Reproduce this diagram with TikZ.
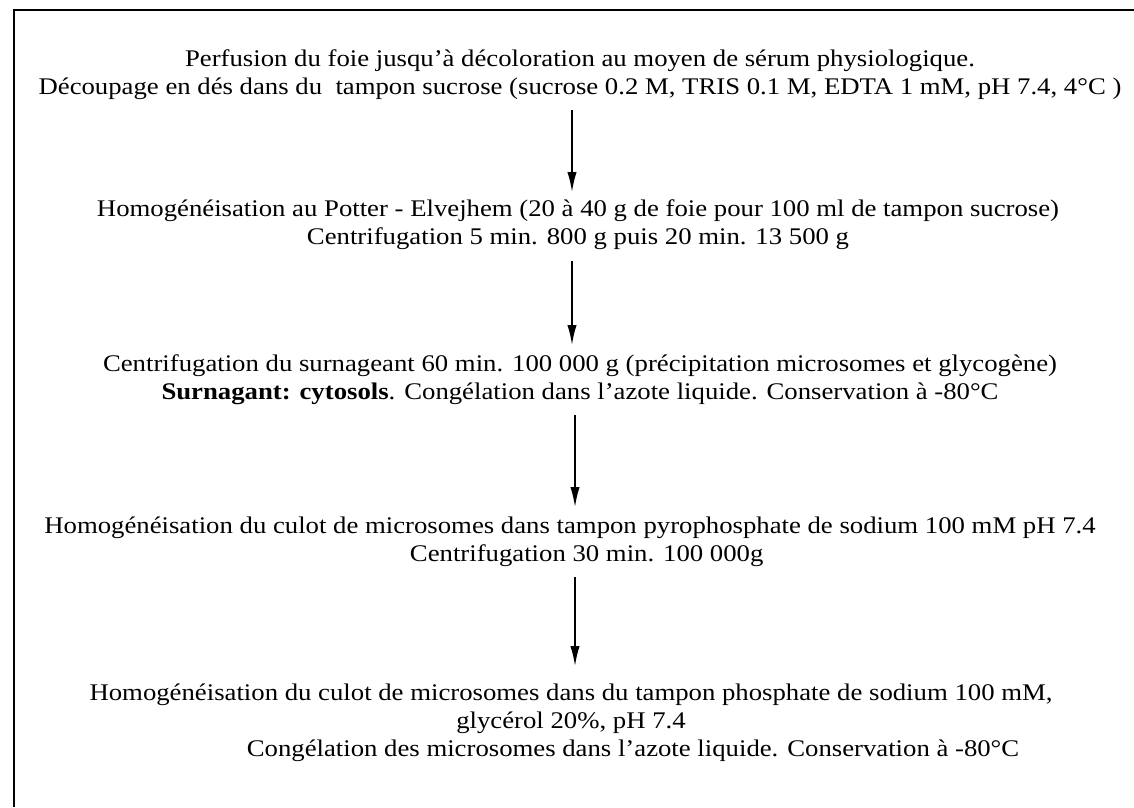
\documentclass[tikz,border=0pt]{standalone}
\usepackage{fontspec}
\setmainfont[FakeStretch=1.12]{Liberation Serif}
\usetikzlibrary{arrows.meta}
\newcommand\lnstrut{\rule[-5pt]{0pt}{20pt}}
\tikzset{
  stepbox/.style={align=center, inner sep=0pt, anchor=north, font=\fontsize{17.9pt}{21pt}\selectfont},
  arr/.style={line width=1.2pt, -{Latex[length=15pt,width=7pt]}},
  frameline/.style={line width=1.6pt}
}
\begin{document}
\begin{tikzpicture}[x=0.75pt,y=-0.75pt]
\useasboundingbox (0,0) rectangle (1134,807);
\coordinate (fl) at (14,807);
\coordinate (fc) at (14,10);
\coordinate (fr) at (1134,10);
\draw[frameline] (fl) -- (fc) -- (fr);

% first baseline = north + 20px
\node[stepbox] (b1) at (580,46) {\lnstrut Perfusion du foie jusqu'à décoloration au moyen de sérum physiologique.\\
\lnstrut Découpage en dés dans du~ tampon sucrose (sucrose 0.2 M, TRIS 0.1 M, EDTA 1 mM, pH 7.4, 4°C )};

\node[stepbox] (b2) at (578,196) {\lnstrut Homogénéisation au Potter - Elvejhem (20 à 40 g de foie pour 100 ml de tampon sucrose)\\
\lnstrut Centrifugation 5 min. 800 g puis 20 min. 13 500 g};

\node[stepbox] (b3) at (580,351) {\lnstrut Centrifugation du surnageant 60 min. 100 000 g (précipitation microsomes et glycogène)\\
\lnstrut\textbf{Surnagant: cytosols}. Congélation dans l'azote liquide. Conservation à -80°C};

\node[stepbox] (b4) at (570,513) {\lnstrut Homogénéisation du culot de microsomes dans tampon pyrophosphate de sodium 100 mM pH 7.4\\
\hspace*{25pt}\lnstrut Centrifugation 30 min. 100 000g};

\node[stepbox] (b5) at (571,680) {\lnstrut Homogénéisation du culot de microsomes dans du tampon phosphate de sodium 100 mM,\\
\lnstrut glycérol 20\%, pH 7.4\hspace*{24pt}\\
\hspace*{93pt}\lnstrut Congélation des microsomes dans l'azote liquide. Conservation à -80°C};

\coordinate (s1) at (572,110); \coordinate (e1) at (572,192);
\coordinate (s2) at (572,261); \coordinate (e2) at (572,345);
\coordinate (s3) at (575,415); \coordinate (e3) at (575,507);
\coordinate (s4) at (575,577); \coordinate (e4) at (575,666);
\draw[arr] (s1) -- (e1);
\draw[arr] (s2) -- (e2);
\draw[arr] (s3) -- (e3);
\draw[arr] (s4) -- (e4);
\end{tikzpicture}
\end{document}
